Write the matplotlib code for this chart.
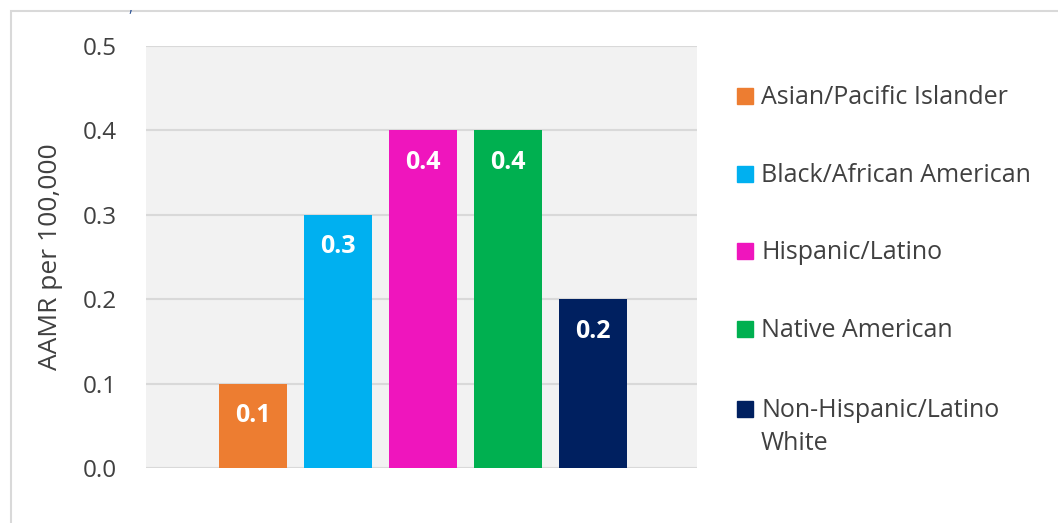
import matplotlib.pyplot as plt
from matplotlib.patches import Rectangle

groups = ["Asian/Pacific Islander", "Black/African American", "Hispanic/Latino",
          "Native American", "Non-Hispanic/Latino\nWhite"]
aamr = [0.1, 0.3, 0.4, 0.4, 0.2]
colors = ["#ed7d31", "#00b0f0", "#ef15bd", "#00b050", "#002060"]
yticks = [0.0, 0.1, 0.2, 0.3, 0.4, 0.5]

plt.rcParams['font.family'] = ['Open Sans', 'DejaVu Sans']
txt = "#404040"

fig = plt.figure(figsize=(10.58, 5.23), dpi=100)
W, H = 1058, 523

# outer chart border (partly off the image)
fig.patches.append(Rectangle((10.5 / W, -0.1), 1.2, 1 - 11.5 / H + 0.1, transform=fig.transFigure,
                             fill=False, edgecolor="#d9d9d9", linewidth=1.5))
fig.text(128 / W, 1 - 0.5 / H, ",", color="#2f5597", fontsize=11, va="top", ha="left")

ax = fig.add_axes([146 / W, 1 - 468 / H, (697 - 146) / W, (468 - 46) / H])
ax.set_facecolor("#f2f2f2")
x = list(range(len(aamr)))
ax.bar(x, aamr, width=0.8, color=colors, zorder=3)
for xi, v in zip(x, aamr):
    ax.text(xi, v - 0.038, f"{v:.1f}", color="white", fontweight="bold",
            fontsize=18, ha="center", va="center", zorder=4)

ax.set_xlim(-1.26, 5.23)
ax.set_ylim(0, 0.5)
ax.set_yticks(yticks)
ax.set_yticklabels([f"{t:.1f}" for t in yticks])
ax.yaxis.grid(True, color="#d9d9d9", linewidth=1.5, zorder=0)
ax.set_xticks([])
for s in ax.spines.values():
    s.set_visible(False)
ax.tick_params(axis="y", length=0, labelsize=17.5, labelcolor=txt, pad=21)
ax.set_ylabel("AAMR per 100,000", fontsize=19, color=txt, labelpad=14)

# legend
leg_y = [96, 174, 251, 329, 409]
for name, c, yy in zip(groups, colors, leg_y):
    fig.patches.append(Rectangle((737 / W, 1 - (yy + 8) / H), 16 / W, 16 / H,
                                 transform=fig.transFigure, color=c))
    fig.text(761 / W, 1 - (yy - 11) / H, name, fontsize=18, color=txt,
             va="top", ha="left", linespacing=1.4)

fig.savefig("out.png", dpi=100)
